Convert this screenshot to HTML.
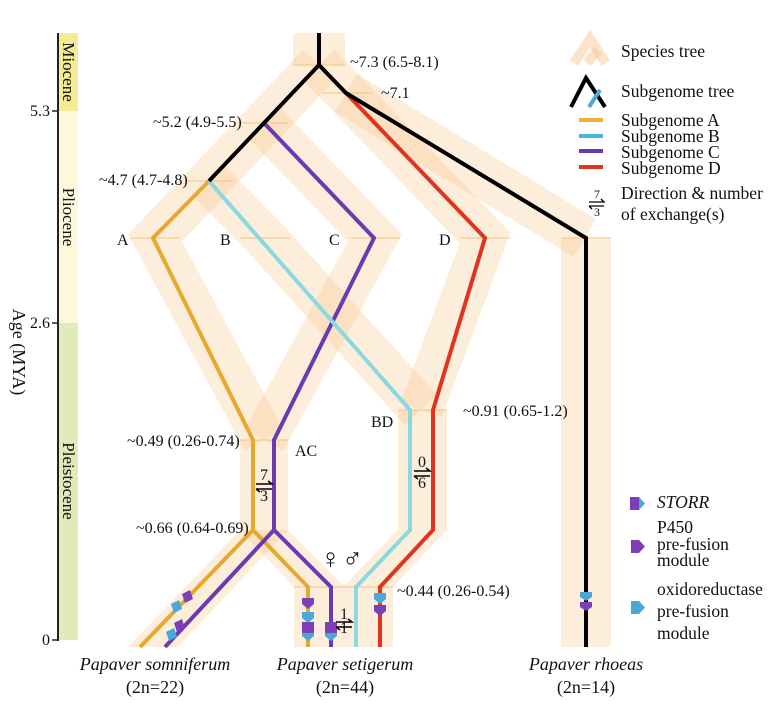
<!DOCTYPE html>
<html><head><meta charset="utf-8"><style>
html,body{margin:0;padding:0;background:#fff}
svg{display:block}
text{font-family:"Liberation Serif",serif;fill:#111}
</style></head><body>
<svg width="784" height="707" viewBox="0 0 784 707" xmlns="http://www.w3.org/2000/svg">
<rect x="59" y="33" width="19" height="78" fill="#f6eb95"/>
<rect x="59" y="111" width="19" height="212" fill="#fdf8dc"/>
<rect x="59" y="323" width="19" height="317" fill="#e2eab9"/>
<line x1="58" y1="33" x2="58" y2="641" stroke="#222" stroke-width="2"/>
<line x1="52" y1="111" x2="58" y2="111" stroke="#222" stroke-width="1.5"/>
<line x1="52" y1="323" x2="58" y2="323" stroke="#222" stroke-width="1.5"/>
<line x1="52" y1="640" x2="58" y2="640" stroke="#222" stroke-width="1.5"/>
<text x="50" y="116" font-size="16" text-anchor="end">5.3</text>
<text x="50" y="328" font-size="16" text-anchor="end">2.6</text>
<text x="50" y="645" font-size="16" text-anchor="end">0</text>
<text transform="translate(63,72) rotate(90)" font-size="17" text-anchor="middle">Miocene</text>
<text transform="translate(63,217) rotate(90)" font-size="17" text-anchor="middle">Pliocene</text>
<text transform="translate(63,481) rotate(90)" font-size="17" text-anchor="middle">Pleistocene</text>
<text transform="translate(13,352) rotate(90)" font-size="18" text-anchor="middle">Age (MYA)</text>

<g fill="none" stroke="rgba(247,196,135,0.3)" stroke-width="44" stroke-linejoin="miter">
<polyline points="319,65 264,123 209,181 155,238 264,440"/>
<polyline points="209,181 265,238 421,410"/>
<polyline points="264,123 375,238 264,440"/>
<polyline points="319,65 346,93 485,238 421,410"/>
<polyline points="346,93 585,238"/>
</g>
<g fill="rgba(247,196,135,0.3)">
<rect x="293" y="33" width="52" height="32"/>
<rect x="240" y="440" width="48" height="90"/>
<rect x="398" y="410" width="49" height="120"/>
<rect x="294" y="587" width="99" height="60"/>
<rect x="561" y="238" width="50" height="409"/>
<polygon points="240,530 288,530 178,647 128,647"/>
<polygon points="240,530 288,530 345,587 294,587"/>
<polygon points="398,530 447,530 393,587 343,587"/>
</g>
<g stroke="rgba(245,190,120,0.45)" stroke-width="2">
<line x1="293" y1="65" x2="345" y2="65"/><line x1="322" y1="93" x2="372" y2="93"/>
<line x1="240" y1="123" x2="288" y2="123"/><line x1="185" y1="181" x2="233" y2="181"/>
<line x1="130" y1="238" x2="180" y2="238"/><line x1="240" y1="238" x2="290" y2="238"/>
<line x1="350" y1="238" x2="400" y2="238"/><line x1="460" y1="238" x2="510" y2="238"/>
<line x1="561" y1="238" x2="611" y2="238"/><line x1="240" y1="440" x2="288" y2="440"/>
<line x1="398" y1="410" x2="447" y2="410"/><line x1="294" y1="587" x2="393" y2="587"/>
</g>

<g fill="none" stroke-width="4" stroke-linejoin="miter">
<polyline stroke="#e4aa2e" points="209,181 153,238 253,440 253,530 140,647"/>
<polyline stroke="#e4aa2e" points="253,530 308,587 308,647"/>
<polyline stroke="#6a3bb0" points="264,123 374,238 274,440 274,530 165,647"/>
<polyline stroke="#6a3bb0" points="274,530 331,587 331,647"/>
<polyline stroke="#8ad9e0" points="209,181 410,410 410,530 356,587 356,647"/>
<polyline stroke="#e2331f" points="346,93 485,238 433,410 433,530 380,587 380,647"/>
<polyline stroke="#000" points="319,33 319,65 264,123 209,181"/>
<polyline stroke="#000" points="319,65 346,93 586,238 586,647"/>
</g>

<g>
<path d="M302,598 h12 v6 l-6,5 l-6,-5z" fill="#7c3fb5"/>
<path d="M302,612 h12 v6 l-6,5 l-6,-5z" fill="#4aa8d8"/>
<rect x="302" y="622" width="12" height="11" fill="#7c3fb5"/><path d="M302,633 h12 v3 l-6,5 l-6,-5z" fill="#4aa8d8"/>
<rect x="325" y="622" width="12" height="11" fill="#7c3fb5"/><path d="M325,633 h12 v3 l-6,5 l-6,-5z" fill="#4aa8d8"/>
<path d="M374,593 h12 v6 l-6,5 l-6,-5z" fill="#4aa8d8"/>
<path d="M374,605 h12 v6 l-6,5 l-6,-5z" fill="#7c3fb5"/>
<path d="M580,592 h12 v5 l-6,4 l-6,-4z" fill="#4aa8d8"/>
<path d="M580,602 h12 v5 l-6,4 l-6,-4z" fill="#7c3fb5"/>
<path d="M182,594 l8,-4 l3,9 l-8,4z" fill="#7c3fb5"/>
<path d="M171,604 l8,-4 l3,9 l-8,4z" fill="#4aa8d8"/>
<path d="M174,623 l8,-4 l3,9 l-8,4z" fill="#7c3fb5"/>
<path d="M166,632 l8,-4 l3,9 l-8,4z" fill="#4aa8d8"/>
</g>

<g font-size="16" text-anchor="middle">
<text x="264" y="480">7</text><text x="264" y="501">3</text>
<path d="M256,484 h16 l-4,-3 M256,489 h16 M256,489 l4,3" stroke="#000" stroke-width="1.5" fill="none"/>
<text x="422" y="467">0</text><text x="422" y="488">6</text>
<path d="M414,471 h16 l-4,-3 M414,476 h16 M414,476 l4,3" stroke="#000" stroke-width="1.5" fill="none"/>
<text x="344" y="619">1</text><text x="344" y="633">1</text>
<path d="M336,622 h16 l-4,-3 M336,627 h16 M336,627 l4,3" stroke="#000" stroke-width="1.5" fill="none"/>
</g>

<g font-size="16">
<text x="350" y="67">~7.3 (6.5-8.1)</text>
<text x="381" y="98">~7.1</text>
<text x="153" y="127">~5.2 (4.9-5.5)</text>
<text x="99" y="185">~4.7 (4.7-4.8)</text>
<text x="117" y="245">A</text><text x="220" y="245">B</text>
<text x="329" y="245">C</text><text x="439" y="245">D</text>
<text x="463" y="416">~0.91 (0.65-1.2)</text>
<text x="371" y="427">BD</text>
<text x="127" y="446">~0.49 (0.26-0.74)</text>
<text x="295" y="456">AC</text>
<text x="136" y="533">~0.66 (0.64-0.69)</text>
<text x="397" y="596">~0.44 (0.26-0.54)</text>
<text x="320" y="568" font-size="28" font-family="DejaVu Sans">♀</text>
<text x="342" y="568" font-size="28" font-family="DejaVu Sans">♂</text>
</g>
<g font-size="18" text-anchor="middle">
<text x="155" y="670" font-style="italic">Papaver somniferum</text>
<text x="155" y="693">(2n=22)</text>
<text x="345" y="670" font-style="italic">Papaver setigerum</text>
<text x="345" y="693">(2n=44)</text>
<text x="586" y="670" font-style="italic">Papaver rhoeas</text>
<text x="586" y="693">(2n=14)</text>
</g>

<g fill="none" stroke="rgba(247,196,135,0.45)" stroke-width="10" stroke-linejoin="miter">
<polyline points="574,63 590,39 606,63"/>
<polyline points="587,63 598,50"/>
</g>
<polyline points="571,107 586,78 605,107" fill="none" stroke="#000" stroke-width="4"/>
<line x1="589" y1="107" x2="600" y2="90" stroke="#4aa8d8" stroke-width="4"/>
<line x1="579" y1="120" x2="603" y2="120" stroke="#efb130" stroke-width="4"/>
<line x1="579" y1="136" x2="603" y2="136" stroke="#4ab3dc" stroke-width="4"/>
<line x1="579" y1="151" x2="603" y2="151" stroke="#6a3bb0" stroke-width="4"/>
<line x1="579" y1="167" x2="603" y2="167" stroke="#e2331f" stroke-width="4"/>
<text x="597" y="198" font-size="12" text-anchor="middle">7</text>
<text x="597" y="216" font-size="12" text-anchor="middle">3</text>
<path d="M589,202 h15 l-3,-3 M589,206 h15 M589,206 l3,3" stroke="#000" stroke-width="1.3" fill="none"/>
<g font-size="17.5">
<text x="621" y="57">Species tree</text>
<text x="621" y="97">Subgenome tree</text>
<text x="621" y="126">Subgenome A</text>
<text x="621" y="142">Subgenome B</text>
<text x="621" y="158">Subgenome C</text>
<text x="621" y="174">Subgenome D</text>
<text x="621" y="199">Direction &amp; number</text>
<text x="621" y="220">of exchange(s)</text>
<text x="657" y="508" font-style="italic">STORR</text>
<text x="657" y="533">P450</text>
<text x="657" y="550">pre-fusion</text>
<text x="657" y="566">module</text>
<text x="657" y="595">oxidoreductase</text>
<text x="657" y="617">pre-fusion</text>
<text x="657" y="639">module</text>
</g>
<rect x="630" y="497" width="9" height="13" fill="#7c3fb5"/><path d="M639,497 l6,6.5 l-6,6.5z" fill="#4aa8d8"/>
<path d="M631,540 h8 l6,6.5 l-6,6.5 h-8z" fill="#7c3fb5"/>
<path d="M631,601 h8 l6,6.5 l-6,6.5 h-8z" fill="#4aa8d8"/>
</svg>
</body></html>
